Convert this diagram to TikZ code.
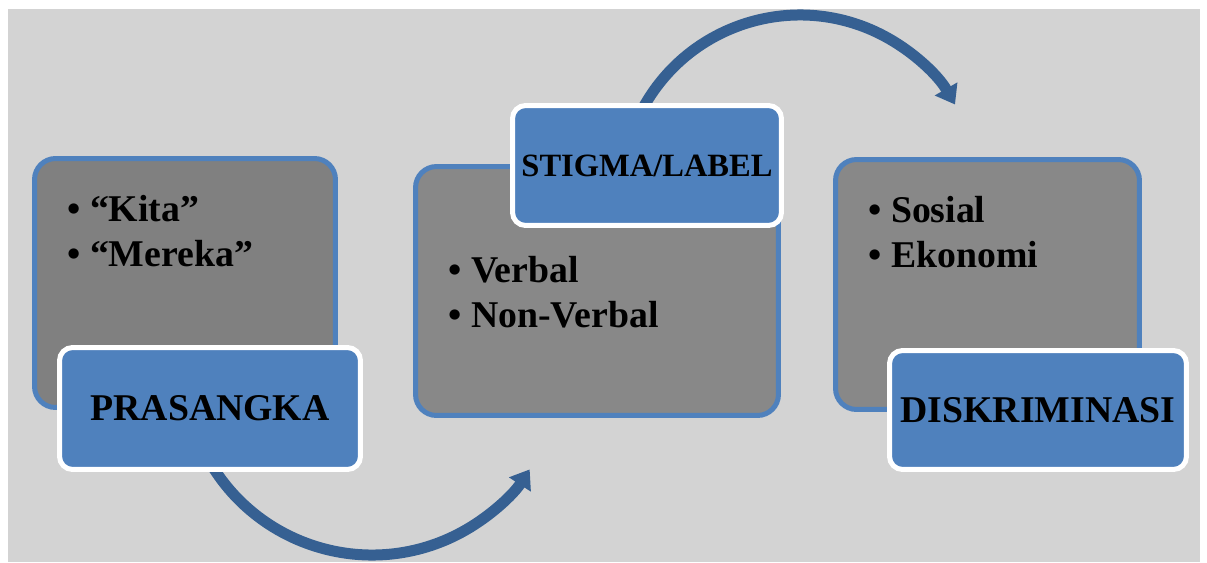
\documentclass[tikz,border=0pt]{standalone}
\usepackage{fontspec}
\setmainfont{Liberation Serif}
\usepackage{xcolor}
\usetikzlibrary{arrows.meta}
\definecolor{canvas}{RGB}{211,211,211}
\definecolor{boxblue}{RGB}{79,129,189}
\definecolor{arcblue}{RGB}{54,96,146}
\definecolor{slate}{RGB}{128,128,128}
\definecolor{slatelight}{RGB}{136,136,136}
\tikzset{
  panel/.style = {rectangle, rounded corners=0.42cm, draw=boxblue,
                  line width=0.1cm, fill=#1},
  panel/.default = slate,
  tag/.style = {rectangle, rounded corners=0.26cm, draw=white,
                line width=0.1cm, fill=boxblue, inner sep=0pt,
                font=\bfseries\fontsize{#1}{26}\selectfont},
  tag/.default = 21.5,
  item/.style = {anchor=base west, inner sep=0pt,
                 font=\bfseries\fontsize{21.5}{26}\selectfont},
  flow/.style = {draw=arcblue, line width=0.22cm,
                 -{Triangle[length=0.36cm, width=0.5cm]}}
}

\begin{document}
\begin{tikzpicture}[x=0.02cm, y=-0.02cm]
	\def \ra{188} % lower arc
	\def \rb{179} % upper arc
	
	\useasboundingbox (0,0) rectangle (1207,562);
	\fill[canvas] (8,9) rectangle (1200,562);
	
	% Boxes
	\node[panel, minimum width=6.02cm, minimum height=4.98cm] (box1) at (185,283) {};
	\node[panel=slatelight, minimum width=7.26cm, minimum height=4.98cm] (box2) at (597,291) {};
	\node[panel=slatelight, minimum width=6.08cm, minimum height=5.0cm] (box3) at (987.5,284.5) {};
	
	% Arcs
	\coordinate (dip) at (372,367);
	\coordinate (hump) at (800,194);
	\draw[flow] ([shift={(150:\ra)}]dip) arc[start angle=150, end angle=33, radius=\ra];
	\draw[flow] ([shift={(-152:\rb)}]hump) arc[start angle=-152, end angle=-30, radius=\rb];
	
	% Labels
	\node[tag, minimum width=6.02cm, minimum height=2.44cm] (prasangka) at (210,408.5) {PRASANGKA};
	\node[tag=18.5, minimum width=5.38cm, minimum height=2.4cm] (stigma) at (647,165.5) {STIGMA/LABEL};
	\node[tag, minimum width=5.94cm, minimum height=2.38cm] (diskriminasi) at (1038,410) {DISKRIMINASI};
	
	% Bullets
	\node[item] (kita) at (67,221) {• “Kita”};
	\node[item] (mereka) at (67,266) {• “Mereka”};
	\node[item] (verbal) at (448,282) {• Verbal};
	\node[item] (nonverbal) at (448,327) {• Non-Verbal};
	\node[item] (sosial) at (868,222) {• Sosial};
	\node[item] (ekonomi) at (868,267) {• Ekonomi};
	
\end{tikzpicture}
\end{document}
